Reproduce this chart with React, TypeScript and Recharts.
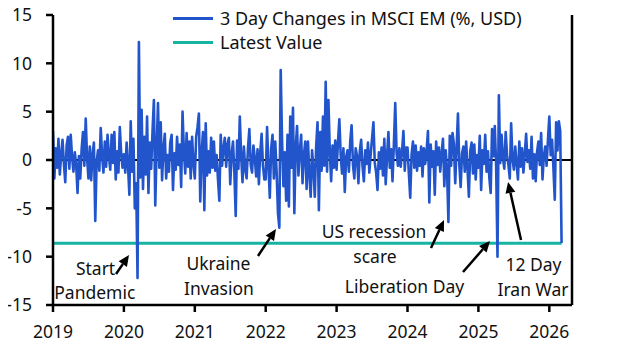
import { LineChart, Line, XAxis, YAxis, ReferenceLine, ReferenceDot, Legend } from "recharts";

// weekly 3 day changes in MSCI EM (%, USD)
const y2019 = [3.0, -1.9, 1.2, -0.8, 2.2, -1.5, 0.6, 2.1, -0.4, -2.3, 1.5, 2.4, -0.9, 2.6, 0.3, -1.2, 0.8, -0.5, -3.4, 0.4, -1.9, 1.1, 2.9, -0.6, 4.3, 0.2, -1.9, 1.4, -2.1, 0.6, 1.8, -6.3, -0.2, 1.0, -1.1, 3.3, 0.5, -1.3, 1.9, -0.7, 2.6, 0.4, -1.0, 2.6, -0.3, 2.9, -2.0, 0.9, -1.3, 3.4, 0.7, -0.8];
const y2020 = [0.6, -1.3, 1.8, -0.5, -3.6, 4.0, -1.2, 2.2, -5.0, -2.4, -12.2, 12.2, -1.8, 5.2, -3.0, 2.4, -1.5, 4.5, -3.4, 1.8, -0.9, 3.0, 6.2, -4.7, 1.1, 5.9, -0.8, 3.9, -2.1, 1.2, 2.7, -1.9, 0.5, -1.2, 1.8, 2.6, -3.1, 0.7, -1.0, 2.4, -0.5, 1.6, -2.8, 5.0, 0.9, -1.4, 2.8, -0.7, 1.9, -1.9, 2.4, -0.4];
const y2021 = [-1.9, 2.4, 3.4, 4.8, -4.3, 0.8, 2.9, -5.2, 3.8, -1.6, 0.9, -1.3, 2.3, -0.8, 1.9, -1.1, 0.5, -2.0, -4.2, 2.6, -0.6, 1.2, 2.3, -0.7, 1.6, 2.3, -2.5, 0.6, 1.9, -1.2, -5.8, 2.0, -0.9, 4.5, 0.4, -2.3, 1.4, -1.0, -1.9, 1.2, 3.2, -0.5, -1.3, 1.5, 0.2, -1.7, 1.1, -2.5, 0.8, 2.7, -0.6, -2.0];
const y2022 = [-2.0, 3.4, -0.6, -3.9, 1.2, 2.6, -1.9, 1.9, -1.2, -5.5, -7.0, 9.3, 2.0, -2.7, 0.8, -4.2, 2.6, -4.8, 4.5, -0.8, 5.4, -5.5, 1.3, 3.5, -1.6, 0.9, 2.6, -2.4, 0.5, 1.9, -3.0, 1.9, -1.5, -3.8, 1.0, -0.9, -3.8, 1.4, 3.9, -5.2, 2.9, -1.1, 4.5, -0.6, 8.1, -1.2, 6.2, 0.9, -2.2, 1.5, -0.8, 2.0];
const y2023 = [-1.0, 1.8, 4.2, 0.5, -1.4, 1.2, -3.3, 0.3, 1.0, -1.2, 1.9, 3.6, -0.5, -1.9, 1.2, 0.4, -2.4, 0.9, 2.1, -0.6, -2.2, 1.0, -0.4, 1.8, -1.3, 0.6, 2.2, 3.9, -0.3, -1.3, -3.1, 0.8, -0.9, 1.3, -1.6, 2.2, -2.5, 0.4, 2.9, -0.8, 1.1, -2.2, 1.6, 5.9, 0.7, -0.6, 1.2, -0.7, 0.9, 3.0, -1.1, 1.3];
const y2024 = [1.3, -1.4, -3.9, 0.6, 1.9, -0.8, 1.5, -1.1, 0.8, -0.6, 1.4, -1.7, 1.2, -0.4, 0.9, 3.0, -4.4, 1.6, -0.7, 0.9, -3.6, 1.9, -0.5, 1.3, -1.2, 0.7, 2.2, -2.7, 1.0, -1.0, -6.4, 2.5, -0.6, 2.8, 1.7, -2.4, 1.2, 4.8, -0.5, -2.8, 0.7, 1.4, -1.2, 1.9, -0.9, -3.8, 0.9, 1.8, -1.4, 1.6, -2.0, 0.5];
const y2025 = [-0.8, 2.5, -3.1, 1.0, -0.4, 2.6, -1.2, 0.9, -1.8, -3.4, 3.2, 0.4, 3.5, -0.6, -10.0, 6.7, -0.3, 2.6, 0.2, -0.9, 2.9, 0.5, -0.5, -1.9, 3.8, 0.1, -1.0, 1.4, -0.4, -2.0, 1.9, -0.7, 1.2, -1.3, 0.6, 2.7, -0.2, 1.0, -0.9, 2.4, -1.9, 0.6, -2.2, 0.8, 1.9, -0.5, 2.8, -2.0, 0.4, 1.4, -0.6, 2.1];
const y2026 = [4.5, 0.5, 2.1, -0.8, -4.1, 3.9, 1.0, 4.0, 3.0, -8.6];

const years = [2019, 2020, 2021, 2022, 2023, 2024, 2025, 2026];
const yTicks = [-15, -10, -5, 0, 5, 10, 15];

const series = [y2019, y2020, y2021, y2022, y2023, y2024, y2025, y2026];
const latest = y2026[y2026.length - 1];
const data = series.flatMap((vals, k) =>
  vals.map((v, i) => ({ t: years[k] + i / 52, chg: v, latest }))
);

const BLUE = "#2255cc";
const TEAL = "#17b3a3";
const FONT = "'Noto Sans', sans-serif";

// annotation text and arrows, in chart units (year, %)
const notes = [
  { x: 2019.6, y: -11.17, text: "Start" },
  { x: 2019.59, y: -13.65, text: "Pandemic" },
  { x: 2021.334, y: -10.65, text: "Ukraine" },
  { x: 2021.341, y: -13.24, text: "Invasion" },
  { x: 2023.527, y: -7.34, text: "US recession" },
  { x: 2023.541, y: -9.93, text: "scare" },
  { x: 2023.958, y: -13.03, text: "Liberation Day" },
  { x: 2025.777, y: -10.76, text: "12 Day" },
  { x: 2025.77, y: -13.34, text: "Iran War" },
];

const arrows = [
  [{ x: 2019.889, y: -11.79 }, { x: 2020.072, y: -9.83 }],
  [{ x: 2021.891, y: -9.93 }, { x: 2022.145, y: -7.14 }],
  [{ x: 2024.331, y: -9.1 }, { x: 2024.515, y: -6.21 }],
  [{ x: 2024.783, y: -11.59 }, { x: 2025.164, y: -8.38 }],
  [{ x: 2025.601, y: -8.28 }, { x: 2025.418, y: -2.28 }],
];

const Arrow = (props: any) => {
  const { x1, y1, x2, y2 } = props;
  const ang = Math.atan2(y2 - y1, x2 - x1);
  const len = 11;
  const w = 5;
  const bx = x2 - len * Math.cos(ang);
  const by = y2 - len * Math.sin(ang);
  const px = -Math.sin(ang) * w;
  const py = Math.cos(ang) * w;
  return (
    <g>
      <line x1={x1} y1={y1} x2={bx} y2={by} stroke="#000" strokeWidth={2.5} />
      <polygon points={`${x2},${y2} ${bx + px},${by + py} ${bx - px},${by - py}`} fill="#000" />
    </g>
  );
};

const NoteText = (text: string) => (props: any) => (
  <text x={props.cx} y={props.cy} textAnchor="middle" dominantBaseline="central" fontSize={17.5} fontFamily={FONT} fill="#111">
    {text}
  </text>
);

const legendItems = [
  { name: "3 Day Changes in MSCI EM (%, USD)", color: BLUE },
  { name: "Latest Value", color: TEAL },
];

const LegendBox = () => (
  <div style={{ fontFamily: FONT, fontSize: 18, color: "#111", lineHeight: "24px" }}>
    {legendItems.map((it) => (
      <div key={it.name} style={{ display: "flex", alignItems: "center", height: 24, whiteSpace: "nowrap" }}>
        <span style={{ display: "inline-block", width: 40, height: 3, background: it.color, marginRight: 7 }} />
        <span>{it.name}</span>
      </div>
    ))}
  </div>
);

const tickStyle = { fill: "#111", fontSize: 17.5, fontFamily: FONT };
const axisStroke = { stroke: "#000", strokeWidth: 2.5 };

export default function App() {
  return (
    <div style={{ marginTop: -8, marginLeft: -8 }}>
      <LineChart width={624} height={349} data={data} margin={{ top: 15, right: 0, bottom: 0, left: 0 }}>
        <XAxis
          dataKey="t"
          type="number"
          domain={[2019, 2026.32]}
          ticks={years}
          allowDataOverflow
          height={44}
          tickSize={7}
          tickMargin={14}
          tick={tickStyle}
          axisLine={axisStroke}
          tickLine={axisStroke}
        />
        <YAxis
          yAxisId="left"
          domain={[-15, 15]}
          ticks={yTicks}
          width={53}
          tickSize={7}
          tick={{ ...tickStyle, dx: -12 }}
          axisLine={axisStroke}
          tickLine={axisStroke}
        />
        <YAxis
          yAxisId="right"
          orientation="right"
          domain={[-15, 15]}
          ticks={yTicks}
          width={52}
          tickSize={7}
          tick={{ ...tickStyle, dx: 14 }}
          axisLine={axisStroke}
          tickLine={axisStroke}
        />
        <ReferenceLine yAxisId="left" y={0} stroke="#000" strokeWidth={2} />
        <Line
          yAxisId="left"
          dataKey="latest"
          stroke={TEAL}
          strokeWidth={3}
          dot={false}
          isAnimationActive={false}
        />
        <Line
          yAxisId="left"
          dataKey="chg"
          stroke={BLUE}
          strokeWidth={2.6}
          strokeLinejoin="round"
          dot={false}
          isAnimationActive={false}
        />
        {arrows.map((seg, i) => (
          <ReferenceLine key={`a${i}`} yAxisId="left" segment={seg} ifOverflow="visible" shape={Arrow} />
        ))}
        {notes.map((n, i) => (
          <ReferenceDot key={`n${i}`} yAxisId="left" x={n.x} y={n.y} r={0} ifOverflow="visible" shape={NoteText(n.text)} />
        ))}
        <Legend
          layout="horizontal"
          verticalAlign="middle"
          align="center"
          content={LegendBox}
          wrapperStyle={{ top: 6, left: 173, width: 420, height: 48 }}
        />
      </LineChart>
    </div>
  );
}
